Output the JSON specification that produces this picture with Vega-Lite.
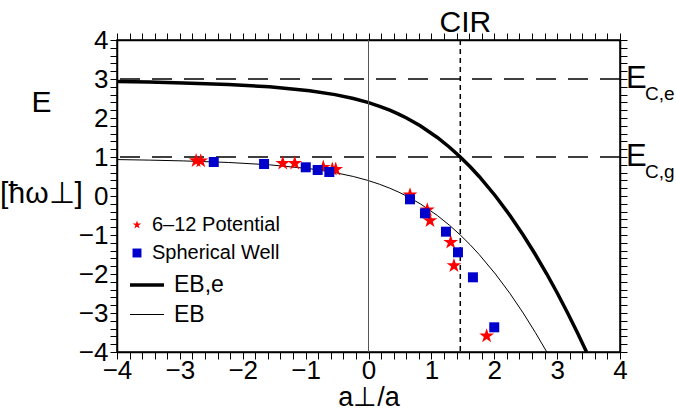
{
  "$schema": "https://vega.github.io/schema/vega-lite/v6.json",
  "width": 503,
  "height": 312,
  "autosize": {"type": "none"},
  "padding": {"left": 117, "top": 40, "right": 56, "bottom": 65},
  "config": {
    "view": {"stroke": "black", "strokeWidth": 1.5},
    "font": "Liberation Sans",
    "axis": {
      "domainColor": "black",
      "domainWidth": 1.5,
      "tickColor": "black",
      "tickWidth": 1,
      "labelColor": "black",
      "labelFont": "Liberation Sans",
      "labelFontSize": 26,
      "titleColor": "black",
      "titleFont": "Liberation Sans",
      "titleFontWeight": "normal",
      "grid": false,
      "labelOverlap": false,
      "labelFlush": false
    }
  },
  "datasets": {
    "curves": [
      {"x": -4.0, "E": 0.934, "series": "EB"},
      {"x": -3.488, "E": 0.92, "series": "EB"},
      {"x": -2.947, "E": 0.90, "series": "EB"},
      {"x": -2.230, "E": 0.86, "series": "EB"},
      {"x": -1.576, "E": 0.80, "series": "EB"},
      {"x": -0.936, "E": 0.70, "series": "EB"},
      {"x": -0.532, "E": 0.60, "series": "EB"},
      {"x": -0.240, "E": 0.50, "series": "EB"},
      {"x": -0.011, "E": 0.40, "series": "EB"},
      {"x": 0.177, "E": 0.30, "series": "EB"},
      {"x": 0.338, "E": 0.20, "series": "EB"},
      {"x": 0.479, "E": 0.10, "series": "EB"},
      {"x": 0.605, "E": 0.0, "series": "EB"},
      {"x": 0.823, "E": -0.2, "series": "EB"},
      {"x": 1.095, "E": -0.5, "series": "EB"},
      {"x": 1.288, "E": -0.75, "series": "EB"},
      {"x": 1.460, "E": -1.0, "series": "EB"},
      {"x": 1.617, "E": -1.25, "series": "EB"},
      {"x": 1.760, "E": -1.5, "series": "EB"},
      {"x": 2.019, "E": -2.0, "series": "EB"},
      {"x": 2.250, "E": -2.5, "series": "EB"},
      {"x": 2.460, "E": -3.0, "series": "EB"},
      {"x": 2.654, "E": -3.5, "series": "EB"},
      {"x": 2.836, "E": -4.0, "series": "EB"},
      {"x": -4.0, "E": 2.934, "series": "EB,e"},
      {"x": -3.488, "E": 2.92, "series": "EB,e"},
      {"x": -2.947, "E": 2.90, "series": "EB,e"},
      {"x": -2.230, "E": 2.86, "series": "EB,e"},
      {"x": -1.576, "E": 2.80, "series": "EB,e"},
      {"x": -0.936, "E": 2.70, "series": "EB,e"},
      {"x": -0.532, "E": 2.60, "series": "EB,e"},
      {"x": -0.240, "E": 2.50, "series": "EB,e"},
      {"x": -0.011, "E": 2.40, "series": "EB,e"},
      {"x": 0.177, "E": 2.30, "series": "EB,e"},
      {"x": 0.338, "E": 2.20, "series": "EB,e"},
      {"x": 0.479, "E": 2.10, "series": "EB,e"},
      {"x": 0.605, "E": 2.0, "series": "EB,e"},
      {"x": 0.823, "E": 1.8, "series": "EB,e"},
      {"x": 1.095, "E": 1.5, "series": "EB,e"},
      {"x": 1.288, "E": 1.25, "series": "EB,e"},
      {"x": 1.460, "E": 1.0, "series": "EB,e"},
      {"x": 1.617, "E": 0.75, "series": "EB,e"},
      {"x": 1.760, "E": 0.5, "series": "EB,e"},
      {"x": 2.019, "E": 0.0, "series": "EB,e"},
      {"x": 2.250, "E": -0.5, "series": "EB,e"},
      {"x": 2.460, "E": -1.0, "series": "EB,e"},
      {"x": 2.654, "E": -1.5, "series": "EB,e"},
      {"x": 2.836, "E": -2.0, "series": "EB,e"},
      {"x": 3.006, "E": -2.5, "series": "EB,e"},
      {"x": 3.167, "E": -3.0, "series": "EB,e"},
      {"x": 3.321, "E": -3.5, "series": "EB,e"},
      {"x": 3.468, "E": -4.0, "series": "EB,e"}
    ],
    "pts": [
      {"x": -2.742, "E": 0.905, "series": "6–12 Potential"},
      {"x": -2.668, "E": 0.897, "series": "6–12 Potential"},
      {"x": -1.364, "E": 0.838, "series": "6–12 Potential"},
      {"x": -1.173, "E": 0.838, "series": "6–12 Potential"},
      {"x": -0.719, "E": 0.736, "series": "6–12 Potential"},
      {"x": -0.576, "E": 0.685, "series": "6–12 Potential"},
      {"x": -0.521, "E": 0.685, "series": "6–12 Potential"},
      {"x": 0.660, "E": 0.026, "series": "6–12 Potential"},
      {"x": 0.935, "E": -0.359, "series": "6–12 Potential"},
      {"x": 0.978, "E": -0.633, "series": "6–12 Potential"},
      {"x": 1.307, "E": -1.187, "series": "6–12 Potential"},
      {"x": 1.359, "E": -1.787, "series": "6–12 Potential"},
      {"x": 1.879, "E": -3.590, "series": "6–12 Potential"},
      {"x": -2.461, "E": 0.872, "series": "Spherical Well"},
      {"x": -1.661, "E": 0.821, "series": "Spherical Well"},
      {"x": -0.998, "E": 0.736, "series": "Spherical Well"},
      {"x": -0.808, "E": 0.667, "series": "Spherical Well"},
      {"x": -0.623, "E": 0.615, "series": "Spherical Well"},
      {"x": 0.660, "E": -0.085, "series": "Spherical Well"},
      {"x": 0.898, "E": -0.444, "series": "Spherical Well"},
      {"x": 1.232, "E": -0.915, "series": "Spherical Well"},
      {"x": 1.423, "E": -1.444, "series": "Spherical Well"},
      {"x": 1.661, "E": -2.085, "series": "Spherical Well"},
      {"x": 2.000, "E": -3.367, "series": "Spherical Well"}
    ],
    "thresholds": [
      {"E": 3, "main": "E", "sub": "C,e"},
      {"E": 1, "main": "E", "sub": "C,g"}
    ],
    "zero": [{"x": 0}],
    "cir": [{"x": 1.46, "label": "CIR"}]
  },
  "resolve": {"axis": {"x": "independent", "y": "independent"}},
  "layer": [
    {
      "data": {"name": "curves"},
      "mark": {"type": "line", "color": "black"},
      "encoding": {
        "x": {
          "field": "x", "type": "quantitative",
          "scale": {"domain": [-4, 4], "nice": false, "zero": false},
          "axis": {
            "orient": "bottom",
            "title": "a⊥/a",
            "titleFontSize": 27,
            "titlePadding": 1,
            "labelPadding": -2,
            "tickSize": 7,
            "values": [-4,-3.8,-3.6,-3.4,-3.2,-3,-2.8,-2.6,-2.4,-2.2,-2,-1.8,-1.6,-1.4,-1.2,-1,-0.8,-0.6,-0.4,-0.2,0,0.2,0.4,0.6,0.8,1,1.2,1.4,1.6,1.8,2,2.2,2.4,2.6,2.8,3,3.2,3.4,3.6,3.8,4],
            "labelExpr": "datum.value % 1 == 0 ? format(datum.value, 'd') : ''",
            "encode": {
              "ticks": {"update": {"y2": {"signal": "datum.value % 1 == 0 ? -7 : -4"}}}
            }
          }
        },
        "y": {
          "field": "E", "type": "quantitative",
          "scale": {"domain": [-4, 4], "nice": false, "zero": false},
          "axis": {
            "orient": "left",
            "title": ["E", "[ħω⊥]"],
            "titleAngle": 0,
            "titleFontSize": 30,
            "titleLineHeight": 91,
            "titleAlign": "center",
            "titleBaseline": "middle",
            "titleX": -76,
            "titleY": 62,
            "labelPadding": 2,
            "tickSize": 7,
            "values": [-4,-3.8,-3.6,-3.4,-3.2,-3,-2.8,-2.6,-2.4,-2.2,-2,-1.8,-1.6,-1.4,-1.2,-1,-0.8,-0.6,-0.4,-0.2,0,0.2,0.4,0.6,0.8,1,1.2,1.4,1.6,1.8,2,2.2,2.4,2.6,2.8,3,3.2,3.4,3.6,3.8,4],
            "labelExpr": "datum.value % 1 == 0 ? format(datum.value, 'd') : ''",
            "encode": {
              "ticks": {"update": {"x2": {"signal": "datum.value % 1 == 0 ? 7 : 4"}}}
            }
          }
        },
        "strokeWidth": {
          "field": "series", "type": "ordinal",
          "scale": {"domain": ["EB,e", "EB"], "range": [3.5, 1]},
          "legend": {
            "title": null,
            "orient": "none",
            "legendX": 11,
            "legendY": 226,
            "symbolType": "stroke",
            "symbolSize": 1156,
            "symbolStrokeColor": "black",
            "labelFontSize": 23,
            "labelFont": "Liberation Sans",
            "labelColor": "black",
            "labelOffset": 8,
            "rowPadding": -4,
            "padding": 0
          }
        }
      }
    },
    {
      "data": {"name": "zero"},
      "mark": {"type": "rule", "color": "#555555", "strokeWidth": 1},
      "encoding": {
        "x": {
          "field": "x", "type": "quantitative",
          "axis": {
            "orient": "top",
            "labels": false,
            "title": null,
            "tickSize": 7,
            "values": [-4,-3.8,-3.6,-3.4,-3.2,-3,-2.8,-2.6,-2.4,-2.2,-2,-1.8,-1.6,-1.4,-1.2,-1,-0.8,-0.6,-0.4,-0.2,0,0.2,0.4,0.6,0.8,1,1.2,1.4,1.6,1.8,2,2.2,2.4,2.6,2.8,3,3.2,3.4,3.6,3.8,4],
            "encode": {
              "ticks": {"update": {"y2": {"signal": "datum.value % 1 == 0 ? 7 : 4"}}}
            }
          }
        }
      }
    },
    {
      "data": {"name": "thresholds"},
      "mark": {"type": "rule", "color": "black", "strokeWidth": 1.5, "strokeDash": [20, 12]},
      "encoding": {
        "y": {
          "field": "E", "type": "quantitative",
          "axis": {
            "orient": "right",
            "labels": false,
            "title": null,
            "tickSize": 7,
            "values": [-4,-3.8,-3.6,-3.4,-3.2,-3,-2.8,-2.6,-2.4,-2.2,-2,-1.8,-1.6,-1.4,-1.2,-1,-0.8,-0.6,-0.4,-0.2,0,0.2,0.4,0.6,0.8,1,1.2,1.4,1.6,1.8,2,2.2,2.4,2.6,2.8,3,3.2,3.4,3.6,3.8,4],
            "encode": {
              "ticks": {"update": {"x2": {"signal": "datum.value % 1 == 0 ? -7 : -4"}}}
            }
          }
        }
      }
    },
    {
      "data": {"name": "cir"},
      "mark": {"type": "rule", "color": "black", "strokeWidth": 1.5, "strokeDash": [5, 4]},
      "encoding": {
        "x": {"field": "x", "type": "quantitative", "axis": null}
      }
    },
    {
      "data": {"name": "pts"},
      "mark": {"type": "point", "filled": true, "opacity": 1},
      "encoding": {
        "x": {"field": "x", "type": "quantitative", "axis": null},
        "y": {"field": "E", "type": "quantitative", "axis": null},
        "color": {
          "field": "series", "type": "nominal",
          "scale": {"domain": ["6–12 Potential", "Spherical Well"], "range": ["#ff0000", "#0000cc"]},
          "legend": {
            "title": null,
            "orient": "none",
            "legendX": 10,
            "legendY": 175,
            "symbolSize": 80,
            "labelFontSize": 20,
            "labelFont": "Liberation Sans",
            "labelColor": "black",
            "labelOffset": 5,
            "rowPadding": 8,
            "padding": 0,
            "symbolOpacity": 1
          }
        },
        "shape": {
          "field": "series", "type": "nominal",
          "scale": {
            "domain": ["6–12 Potential", "Spherical Well"],
            "range": ["M0,-1L0.225,-0.309L0.951,-0.309L0.363,0.118L0.588,0.809L0,0.382L-0.588,0.809L-0.363,0.118L-0.951,-0.309L-0.225,-0.309Z", "square"]
          }
        },
        "size": {
          "condition": {"test": "datum.series == '6–12 Potential'", "value": 240},
          "value": 100
        }
      }
    },
    {
      "data": {"name": "thresholds"},
      "mark": {"type": "text", "align": "left", "baseline": "middle", "dx": 6, "fontSize": 31, "font": "Liberation Sans", "color": "black"},
      "encoding": {
        "x": {"datum": 4, "type": "quantitative", "axis": null},
        "y": {"field": "E", "type": "quantitative", "axis": null},
        "text": {"field": "main"}
      }
    },
    {
      "data": {"name": "thresholds"},
      "mark": {"type": "text", "align": "left", "baseline": "middle", "dx": 25, "dy": 15, "fontSize": 19, "font": "Liberation Sans", "color": "black"},
      "encoding": {
        "x": {"datum": 4, "type": "quantitative", "axis": null},
        "y": {"field": "E", "type": "quantitative", "axis": null},
        "text": {"field": "sub"}
      }
    },
    {
      "data": {"name": "cir"},
      "mark": {"type": "text", "align": "center", "baseline": "alphabetic", "dx": 5, "dy": -8, "fontSize": 30, "font": "Liberation Sans", "color": "black"},
      "encoding": {
        "x": {"field": "x", "type": "quantitative", "axis": null},
        "y": {"datum": 4, "type": "quantitative", "axis": null},
        "text": {"field": "label"}
      }
    }
  ]
}
